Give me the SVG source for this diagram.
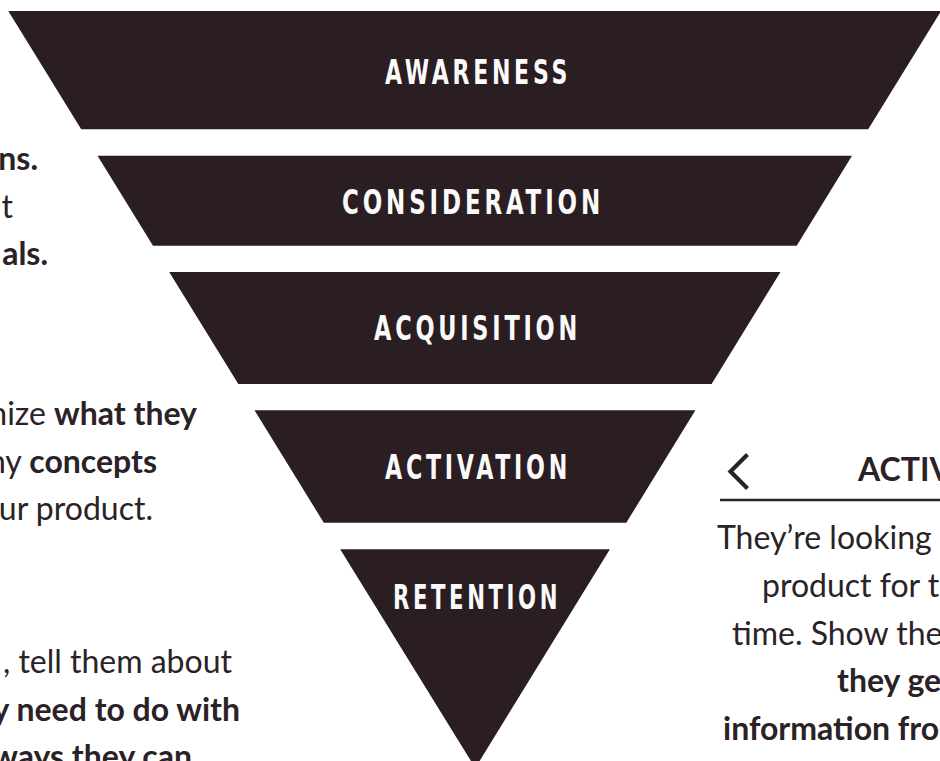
<svg xmlns="http://www.w3.org/2000/svg" width="940" height="761" viewBox="0 0 940 761">
  <style>
    .band { fill: #2a1e23; }
    .label { fill: #fafafa; font-family: "DejaVu Sans Condensed", "Liberation Sans Narrow", "Liberation Sans", sans-serif; font-weight: bold; font-size: 33px; letter-spacing: 5px; }
    .copy { fill: #2a2226; font-family: Lato, "Open Sans", "Noto Sans", sans-serif; font-size: 32px; }
    .b { font-weight: bold; }
    .r { font-weight: normal; }
  </style>
  <rect width="940" height="761" fill="#ffffff"/>

  <!-- funnel stages, widest at the top -->
  <g id="awareness">
    <polygon class="band" points="8.3,11 941,11 868.2,129.3 81.2,129.3"/>
    <text class="label" x="385" y="84" textLength="186" lengthAdjust="spacingAndGlyphs">AWARENESS</text>
  </g>
  <g id="consideration">
    <polygon class="band" points="97.5,155.7 852,155.7 796.7,245.7 153,245.7"/>
    <text class="label" x="342" y="213.5" textLength="262" lengthAdjust="spacingAndGlyphs">CONSIDERATION</text>
  </g>
  <g id="acquisition">
    <polygon class="band" points="169.2,272 780.5,272 711.6,384 238.3,384"/>
    <text class="label" x="374" y="340" textLength="207" lengthAdjust="spacingAndGlyphs">ACQUISITION</text>
  </g>
  <g id="activation">
    <polygon class="band" points="254.5,410.3 695.4,410.3 626.3,522.7 323.8,522.7"/>
    <text class="label" x="385" y="479.3" textLength="186" lengthAdjust="spacingAndGlyphs">ACTIVATION</text>
  </g>
  <g id="retention">
    <polygon class="band" points="340.2,549.3 609.9,549.3 475.3,768"/>
    <text class="label" x="393" y="609" textLength="168" lengthAdjust="spacingAndGlyphs">RETENTION</text>
  </g>

  <!-- stage descriptions running off the left edge -->
  <g id="left-copy" class="copy" text-anchor="end">
    <text x="38" y="170" class="b">ns.</text>
    <text x="13" y="217.5">t</text>
    <text x="48" y="265" class="b">als.</text>
    <text x="197" y="425"><tspan class="r">nize </tspan><tspan class="b">what they</tspan></text>
    <text x="157" y="472.5"><tspan class="r">ny </tspan><tspan class="b">concepts</tspan></text>
    <text x="153" y="520">ur product.</text>
    <text x="232" y="673">, tell them about</text>
    <text x="240" y="720.5" class="b">y need to do with</text>
    <text x="192" y="768" class="b">ways they can</text>
  </g>

  <!-- detail card for the selected stage -->
  <g id="activation-card">
    <polyline points="746,456 730.5,471.5 746,487" fill="none" stroke="#2a2226" stroke-width="4.2" stroke-linecap="square" stroke-linejoin="miter"/>
    <text class="copy b" x="858" y="481" font-size="31">ACTIV</text>
    <line x1="720" y1="500" x2="940" y2="500" stroke="#2a2226" stroke-width="2.6"/>
    <g class="copy">
      <text x="717" y="549">They’re looking</text>
      <text x="762" y="597">product for t</text>
      <text x="732" y="644.5">time. Show the</text>
      <text x="837" y="692" class="b">they ge</text>
      <text x="723" y="740" class="b">information fro</text>
    </g>
  </g>
</svg>
